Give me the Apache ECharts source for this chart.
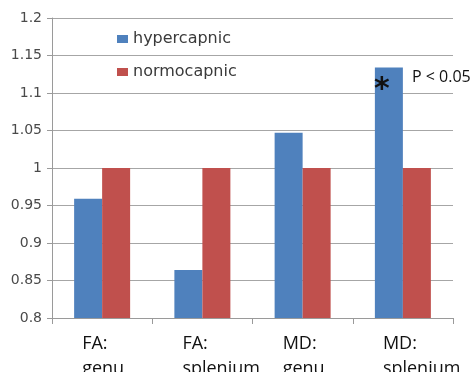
<!DOCTYPE html>
<html><head><meta charset="utf-8">
<script src="https://cdn.jsdelivr.net/npm/echarts@6/dist/echarts.min.js"></script>
<style>html,body{margin:0;padding:0;background:#fff}#c{width:475px;height:372px}</style>
</head><body><div id="c"></div>
<script>
const categories = ['FA:\ngenu', 'FA:\nsplenium', 'MD:\ngenu', 'MD:\nsplenium'];
const hypercapnic = [0.959, 0.864, 1.047, 1.134];
const normocapnic = [1.0, 1.0, 1.0, 1.0];
const yTicks = [0.8, 0.85, 0.9, 0.95, 1, 1.05, 1.1, 1.15, 1.2];

const chart = echarts.init(document.getElementById('c'));
chart.setOption({
  animation: false,
  backgroundColor: '#fff',
  grid: { left: 52, right: 22, top: 18, bottom: 54, outerBoundsMode: 'none', containLabel: false },
  legend: {
    orient: 'vertical', left: 112, top: 26,
    itemWidth: 11, itemHeight: 8, itemGap: 17,
    icon: 'rect',
    textStyle: { fontFamily: 'DejaVu Sans', fontSize: 16, color: '#3a3a3a' },
    data: ['hypercapnic', 'normocapnic']
  },
  xAxis: {
    type: 'category', data: categories,
    axisLine: { lineStyle: { color: '#9a9a9a' } },
    axisTick: { show: true, length: 6, lineStyle: { color: '#9a9a9a' } },
    axisLabel: {
      margin: 13, align: 'center',
      formatter: function (v) { return v.split('\n').map(s => '{a|' + s + '}').join('\n'); },
      rich: { a: { width: 40, align: 'left', fontFamily: 'Open Sans', fontSize: 18, color: '#111', lineHeight: 25 } }
    }
  },
  yAxis: {
    type: 'value', min: 0.8, max: 1.2, interval: 0.05,
    axisLine: { show: true, lineStyle: { color: '#9a9a9a' } },
    axisTick: { show: true, length: 5, lineStyle: { color: '#9a9a9a' } },
    splitLine: { lineStyle: { color: '#a6a6a6' } },
    axisLabel: {
      margin: 10, fontFamily: 'DejaVu Sans', fontSize: 14, color: '#4a4a4a',
      formatter: function (v) { return String(+v.toFixed(2)); }
    }
  },
  series: [
    {
      name: 'hypercapnic', type: 'bar', barWidth: 28, barGap: '0%',
      itemStyle: { color: '#4F81BD' },
      data: hypercapnic.map((v, i) => i === 3 ? {
        value: v,
        label: { show: true, position: 'insideTop', distance: 8, offset: [-7, 0], formatter: '*', fontSize: 30, fontWeight: 'bold', color: '#111', fontFamily: 'DejaVu Sans' }
      } : v)
    },
    {
      name: 'normocapnic', type: 'bar', barWidth: 28,
      itemStyle: { color: '#C0504D' },
      data: normocapnic
    }
  ],
  graphic: [
    { type: 'text', left: 412, top: 69, style: { text: 'P < 0.05', fontFamily: 'Open Sans', fontSize: 16, fill: '#111' } }
  ]
});
</script></body></html>
